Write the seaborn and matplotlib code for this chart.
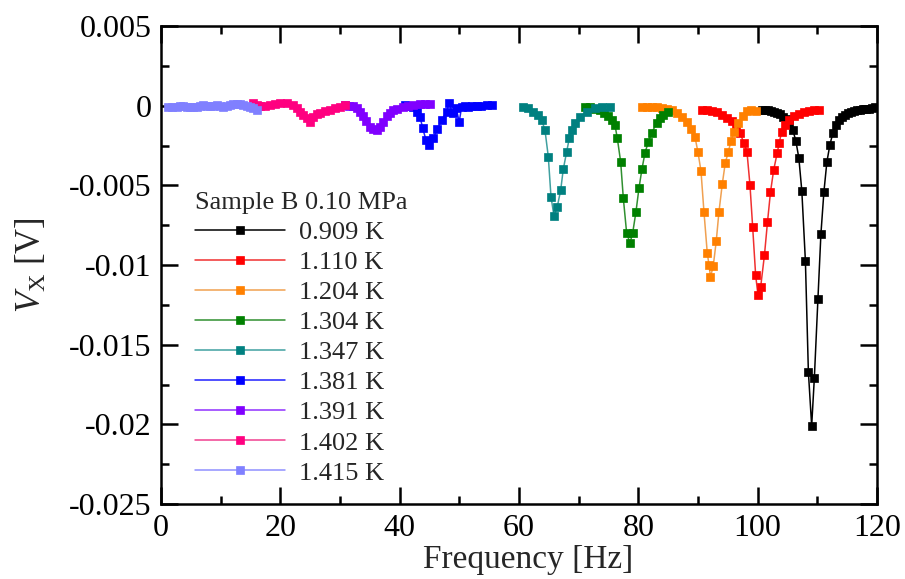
import matplotlib
matplotlib.use("Agg")
import matplotlib.pyplot as plt
import seaborn as sns
import pandas as pd
from matplotlib.ticker import MultipleLocator

sns.set_theme(style="ticks")
plt.rcParams['font.family'] = ['Liberation Serif', 'DejaVu Serif']
plt.rcParams['mathtext.fontset'] = 'custom'
plt.rcParams['mathtext.rm'] = 'Liberation Serif'
plt.rcParams['mathtext.it'] = 'Liberation Serif:italic'

# ---------------- data ----------------
labels = ["0.909 K", "1.110 K", "1.204 K", "1.304 K", "1.347 K",
          "1.381 K", "1.391 K", "1.402 K", "1.415 K"]
marker_colors = ["#000000", "#ff0000", "#ff8000", "#008000", "#008080",
                 "#0000ff", "#8000ff", "#ff0080", "#8080ff"]
line_colors = ["#000000", "#f03030", "#f0a050", "#309030", "#40a0a0",
               "#2020ff", "#9030ff", "#f04090", "#9090ff"]

f_0909 = [100.7, 101.2, 101.7, 102.2, 102.7, 103.2, 103.7, 104.2, 104.7, 105.2,
          105.9, 106.4, 106.9, 107.4, 108.0, 108.5, 109.05, 109.5,
          110.1, 110.6, 111.1, 111.6, 112.1, 112.6,
          113.1, 113.6, 114.1, 114.6, 115.1, 115.6, 116.1, 116.6, 117.1, 117.6,
          118.1, 118.6, 119.1, 119.6]
v_0909 = [-0.00027, -0.00027, -0.00030, -0.00033, -0.00040, -0.00046, -0.00055, -0.00068, -0.00083, -0.00109,
          -0.00153, -0.00222, -0.00328, -0.00535, -0.00975, -0.01671, -0.02010, -0.01709,
          -0.01213, -0.00805, -0.00542, -0.00353, -0.00247, -0.00171,
          -0.00121, -0.00090, -0.00071, -0.00058, -0.00046, -0.00040, -0.00033, -0.00030, -0.00027, -0.00024,
          -0.00021, -0.00018, -0.00014, -0.00011]

f_1110 = [90.67, 91.50, 92.34, 93.18, 94.02, 94.86, 95.69, 96.36, 97.03, 97.70,
          98.21, 98.71, 99.16, 99.66, 100.05, 100.50, 101.14, 101.64, 102.15, 102.68,
          103.29, 103.62, 104.02, 104.57, 105.24, 106.08, 106.92, 107.76, 108.60, 109.44, 110.28]
v_1110 = [-0.00027, -0.00027, -0.00033, -0.00040, -0.00058, -0.00077, -0.00096, -0.00127, -0.00171, -0.00234,
          -0.00291, -0.00498, -0.00761, -0.01063, -0.01188, -0.01138, -0.00937, -0.00733, -0.00542, -0.00404,
          -0.00294, -0.00232, -0.00163, -0.00121, -0.00090, -0.00065, -0.00052, -0.00040, -0.00033, -0.00027, -0.00027]

f_1204 = [80.61, 81.45, 82.29, 83.12, 83.96, 84.80, 85.64, 86.48, 87.31, 88.15,
          88.82, 89.49, 89.99, 90.50, 91.00, 91.55, 91.84, 92.09, 92.56, 93.06,
          93.51, 94.07, 94.57, 95.07, 95.53, 96.03, 96.75, 97.54, 98.21, 98.88, 99.72]
v_1204 = [-0.00008, -0.00008, -0.00008, -0.00011, -0.00014, -0.00018, -0.00030, -0.00046, -0.00071, -0.00102,
          -0.00146, -0.00196, -0.00291, -0.00410, -0.00667, -0.00923, -0.00999, -0.01075, -0.01006, -0.00849,
          -0.00667, -0.00491, -0.00360, -0.00291, -0.00222, -0.00165, -0.00109, -0.00065, -0.00033, -0.00027, -0.00033]

f_1304 = [71.06, 71.90, 72.73, 73.57, 74.24, 74.91, 75.58, 76.08, 76.47, 77.04,
          77.48, 78.04, 78.60, 79.05, 79.60, 80.11, 80.61, 81.11, 81.67, 82.24,
          83.07, 83.63, 84.18, 85.02]
v_1304 = [-0.00008, -0.00011, -0.00018, -0.00027, -0.00046, -0.00065, -0.00090, -0.00121, -0.00203, -0.00353,
          -0.00579, -0.00799, -0.00862, -0.00799, -0.00667, -0.00517, -0.00397, -0.00297, -0.00228, -0.00171,
          -0.00109, -0.00077, -0.00058, -0.00040]

f_1347 = [60.72, 61.56, 62.39, 63.23, 63.80, 64.35, 64.91, 65.36, 65.86, 66.42,
          66.99, 67.42, 67.99, 68.43, 68.83, 69.38, 70.22, 71.34, 72.73, 73.91, 75.25]
v_1347 = [-0.00006, -0.00016, -0.00038, -0.00058, -0.00090, -0.00153, -0.00320, -0.00571, -0.00692, -0.00634,
          -0.00529, -0.00399, -0.00289, -0.00205, -0.00153, -0.00110, -0.00069, -0.00038, -0.00016, -0.00008, -0.00006]

f_1381 = [40.89, 41.73, 42.23, 42.85, 43.41, 43.86, 44.41, 44.96, 45.63, 46.31,
          47.04, 47.88, 48.27, 48.89, 49.44, 49.99, 50.39, 50.95, 51.50, 52.12,
          52.91, 53.63, 54.58, 55.42]
v_1381 = [0.00004, -0.00002, -0.00008, -0.00038, -0.00069, -0.00142, -0.00215, -0.00247, -0.00205, -0.00148,
          -0.00090, -0.00038, 0.00017, -0.00048, -0.00014, -0.00100, -0.00006, -0.00002, -0.00006, -0.00002,
          -0.00002, 0.00001, 0.00004, 0.00004]

f_1391 = [30.84, 31.51, 32.23, 32.85, 33.35, 33.85, 34.36, 35.03, 35.61, 36.20,
          36.70, 37.26, 37.82, 38.38, 38.93, 39.55, 40.61, 41.39, 42.28, 43.41,
          44.24, 45.08]
v_1391 = [0.00004, 0.00001, -0.00002, -0.00014, -0.00038, -0.00065, -0.00096, -0.00132, -0.00149, -0.00153,
          -0.00134, -0.00102, -0.00065, -0.00046, -0.00030, -0.00021, -0.00006, -0.00002, 0.00004, 0.00008,
          0.00008, 0.00011]

f_1402 = [15.47, 16.09, 16.59, 17.43, 18.27, 19.11, 19.94, 21.07, 22.17, 22.79,
          23.29, 23.88, 24.42, 24.97, 25.52, 26.14, 26.65, 27.48, 28.32, 29.16,
          30.00, 30.84]
v_1402 = [0.00015, 0.00004, -0.00002, 0.00001, 0.00004, 0.00011, 0.00015, 0.00019, 0.00004, -0.00014,
          -0.00038, -0.00058, -0.00079, -0.00100, -0.00069, -0.00055, -0.00048, -0.00036, -0.00027, -0.00016,
          -0.00006, 0.00004]

f_1415 = [1.22, 1.84, 2.63, 3.18, 3.74, 4.36, 4.86, 5.36, 5.98, 6.54,
          7.09, 7.66, 8.21, 8.71, 9.33, 9.89, 10.44, 11.06, 11.56, 12.12,
          12.69, 13.24, 13.79, 14.36, 14.92, 15.47, 16.04]
v_1415 = [-0.00006, -0.00008, -0.00006, -0.00002, -0.00002, -0.00008, -0.00008, -0.00010, -0.00010, -0.00002,
          0.00004, 0.00001, -0.00002, 0.00001, 0.00004, -0.00002, -0.00006, -0.00002, 0.00004, 0.00008,
          0.00011, 0.00008, 0.00004, 0.00001, -0.00006, -0.00014, -0.00027]

freqs = [f_0909, f_1110, f_1204, f_1304, f_1347, f_1381, f_1391, f_1402, f_1415]
volts = [v_0909, v_1110, v_1204, v_1304, v_1347, v_1381, v_1391, v_1402, v_1415]

x_ticks = [0, 20, 40, 60, 80, 100, 120]
x_ticklabels = ["0", "20", "40", "60", "80", "100", "120"]
y_ticks = [0.005, 0.0, -0.005, -0.01, -0.015, -0.02, -0.025]
y_ticklabels = ["0.005", "0", "-0.005", "-0.01", "-0.015", "-0.02", "-0.025"]

# ---------------- plot ----------------
fig = plt.figure(figsize=(9.05, 5.79), dpi=100)
ax = fig.add_axes([161 / 905, 1 - 504 / 579, (877 - 161) / 905, (504 - 26) / 579])

for f, v, lab, mc, lc in zip(freqs, volts, labels, marker_colors, line_colors):
    df = pd.DataFrame({"f": f, "v": v})
    sns.lineplot(data=df, x="f", y="v", ax=ax, color=lc, linewidth=1.1,
                 marker="s", markersize=5.2, markerfacecolor=mc, markeredgecolor=mc,
                 markeredgewidth=0.5, estimator=None, sort=False, label=lab)

ax.set_xlim(0, 120)
ax.set_ylim(-0.025, 0.005)
ax.set_xticks(x_ticks)
ax.set_xticklabels(x_ticklabels)
ax.set_yticks(y_ticks)
ax.set_yticklabels(y_ticklabels)
ax.xaxis.set_minor_locator(MultipleLocator(10))
ax.yaxis.set_minor_locator(MultipleLocator(0.0025))
ax.tick_params(which="both", direction="in", top=True, right=True, width=1.8,
               colors="black", labelsize=23, pad=7)
ax.tick_params(which="major", length=12)
ax.tick_params(which="minor", length=5.5)
for s in ax.spines.values():
    s.set_linewidth(1.8)
    s.set_color("black")

ax.set_xlabel("Frequency [Hz]", fontsize=24, labelpad=2)
ax.xaxis.set_label_coords(0.513, -0.085)
ax.set_ylabel(r"$V_{\mathrm{X}}$ [V]", fontsize=25, labelpad=14)

leg = ax.legend(title="Sample B 0.10 MPa", loc="upper left",
                bbox_to_anchor=(195 / 905, 1 - 192 / 579), bbox_transform=fig.transFigure,
                frameon=False, fontsize=19, title_fontsize=19, handlelength=3.4,
                handletextpad=0.55, labelspacing=0.25, borderpad=0, borderaxespad=0,
                alignment="left")

fig.savefig("out.png", dpi=100)
